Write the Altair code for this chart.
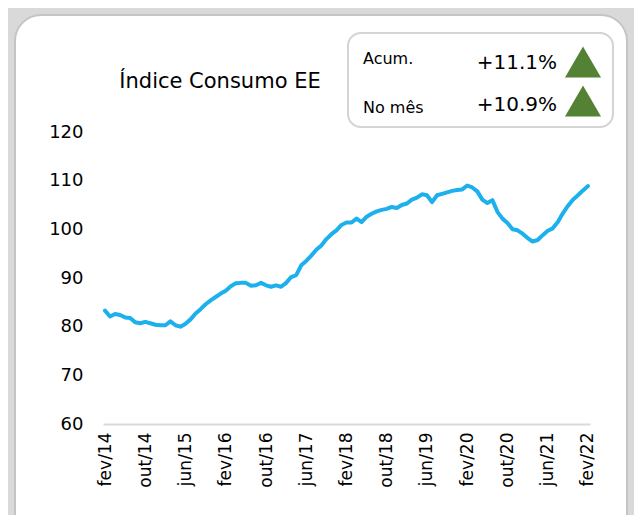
import altair as alt
import pandas as pd

MESES = ["jan", "fev", "mar", "abr", "mai", "jun", "jul", "ago", "set", "out", "nov", "dez"]
months = []
for i in range(97):
    m = (1 + i) % 12
    y = 14 + (1 + i) // 12
    months.append(f"{MESES[m]}/{y:02d}")

values = [
    83.3, 82.1, 82.6, 82.4, 81.9, 81.8, 80.9, 80.7, 81.0, 80.7,
    80.4, 80.3, 80.3, 81.1, 80.3, 80.0, 80.6, 81.5, 82.7, 83.6,
    84.6, 85.4, 86.1, 86.8, 87.4, 88.3, 88.9, 89.0, 89.0, 88.4,
    88.5, 89.0, 88.5, 88.2, 88.5, 88.2, 89.0, 90.2, 90.6, 92.6,
    93.5, 94.6, 95.8, 96.7, 98.0, 99.0, 99.8, 100.9, 101.4, 101.4,
    102.2, 101.5, 102.6, 103.2, 103.7, 104.0, 104.2, 104.6, 104.4, 105.0,
    105.3, 106.1, 106.5, 107.2, 107.0, 105.6, 107.0, 107.3, 107.6, 107.9,
    108.1, 108.2, 109.0, 108.6, 107.8, 106.1, 105.4, 106.0, 103.6, 102.2,
    101.3, 100.0, 99.8, 99.1, 98.2, 97.5, 97.8, 98.8, 99.7, 100.2,
    101.5, 103.3, 104.8, 106.1, 107.0, 108.0, 108.9,
]

tick_labels = ["fev/14", "out/14", "jun/15", "fev/16", "out/16", "jun/17", "fev/18",
               "out/18", "jun/19", "fev/20", "out/20", "jun/21", "fev/22"]
y_ticks = [60, 70, 80, 90, 100, 110, 120]

title_text = "Índice Consumo EE"
legend_labels = ["Acum.", "No mês"]
legend_values = ["+11.1%", "+10.9%"]

FONT = "DejaVu Sans"
df = pd.DataFrame({"mes": months, "valor": values})
one = alt.Data(values=[{"k": 1}])

panel = alt.Chart(one).mark_rect(
    fill="white", stroke="#c4c4c4", strokeWidth=2, cornerRadius=26
).encode(x=alt.value(-88), x2=alt.value(524), y=alt.value(-117), y2=alt.value(420))

legend_box = alt.Chart(one).mark_rect(
    fill="white", stroke="#d4d4d4", strokeWidth=2, cornerRadius=13
).encode(x=alt.value(245), x2=alt.value(510), y=alt.value(-99), y2=alt.value(-5))

title = alt.Chart(one).mark_text(
    font=FONT, fontSize=21, color="black", align="center", baseline="middle"
).encode(x=alt.value(117), y=alt.value(-50), text=alt.value(title_text))

lab1 = alt.Chart(one).mark_text(font=FONT, fontSize=16, color="black", align="left", baseline="middle"
    ).encode(x=alt.value(260), y=alt.value(-73), text=alt.value(legend_labels[0]))
lab2 = alt.Chart(one).mark_text(font=FONT, fontSize=16, color="black", align="left", baseline="middle"
    ).encode(x=alt.value(260), y=alt.value(-24), text=alt.value(legend_labels[1]))
val1 = alt.Chart(one).mark_text(font=FONT, fontSize=20, color="black", align="right", baseline="middle"
    ).encode(x=alt.value(454), y=alt.value(-69), text=alt.value(legend_values[0]))
val2 = alt.Chart(one).mark_text(font=FONT, fontSize=20, color="black", align="right", baseline="middle"
    ).encode(x=alt.value(454), y=alt.value(-27), text=alt.value(legend_values[1]))
tri1 = alt.Chart(one).mark_point(shape="triangle-up", filled=True, fill="#548235", opacity=1, size=1300, strokeWidth=0
    ).encode(x=alt.value(480), y=alt.value(-70))
tri2 = alt.Chart(one).mark_point(shape="triangle-up", filled=True, fill="#548235", opacity=1, size=1300, strokeWidth=0
    ).encode(x=alt.value(480), y=alt.value(-31))

line = alt.Chart(df).mark_line(color="#1CB0EC", strokeWidth=4, strokeCap="round", strokeJoin="round").encode(
    x=alt.X("mes:O", sort=None, scale=alt.Scale(type="point", padding=0.4),
            axis=alt.Axis(values=tick_labels, labelAngle=-90, labelFontSize=17, labelFont=FONT,
                          labelColor="black", labelPadding=8, ticks=False, grid=False,
                          domainColor="#d9d9d9", domainWidth=2, title=None, zindex=1)),
    y=alt.Y("valor:Q", scale=alt.Scale(domain=[60, 120], nice=False, zero=False),
            axis=alt.Axis(values=y_ticks, labelFontSize=18, labelFont=FONT, labelColor="black",
                          labelPadding=20, ticks=False, grid=False, domain=False, title=None, zindex=1)),
)

chart = alt.layer(panel, legend_box, title, lab1, lab2, val1, val2, tri1, tri2, line).properties(
    width=487, height=292, background="#d9d9d9",
    autosize=alt.AutoSizeParams(type="none"),
    padding={"left": 95, "top": 124, "right": 44, "bottom": 91},
).configure_view(stroke=None)

chart.save("out.html", embed_options={"renderer": "svg", "actions": False})
